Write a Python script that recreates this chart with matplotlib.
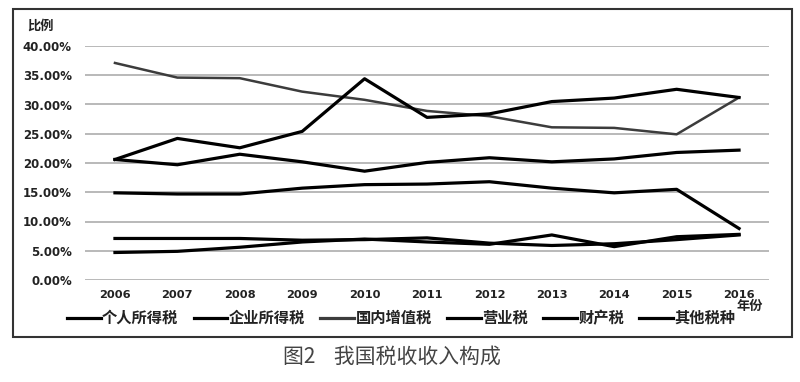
import matplotlib
matplotlib.use("Agg")
import matplotlib.pyplot as plt
from matplotlib.patches import Rectangle

# 年份与各税种占比（%）
years = ['2006', '2007', '2008', '2009', '2010', '2011',
         '2012', '2013', '2014', '2015', '2016']
geren = [7.1, 7.1, 7.1, 6.8, 6.9, 7.2, 6.3, 5.9, 6.2, 6.9, 7.7]
qiye = [20.6, 19.7, 21.5, 20.2, 18.6, 20.1, 20.9, 20.2, 20.7, 21.8, 22.2]
zengzhi = [37.1, 34.6, 34.5, 32.2, 30.8, 28.9, 28.0, 26.1, 26.0, 24.9, 31.2]
yingye = [14.9, 14.7, 14.7, 15.7, 16.3, 16.4, 16.8, 15.7, 14.9, 15.5, 8.8]
caichan = [4.7, 4.9, 5.6, 6.5, 7.0, 6.5, 6.1, 7.7, 5.7, 7.4, 7.8]
qita = [20.6, 24.2, 22.6, 25.4, 34.4, 27.8, 28.4, 30.5, 31.1, 32.6, 31.2]
names = ['个人所得税', '企业所得税', '国内增值税', '营业税', '财产税', '其他税种']

cjk = ['Noto Sans CJK SC', 'DejaVu Sans']

fig = plt.figure(figsize=(8, 3.82), dpi=100)
ax = fig.add_axes([85 / 800, 1 - 280 / 382, (769 - 85) / 800, (280 - 46) / 382])

x = list(range(len(years)))
series = [geren, qiye, zengzhi, yingye, caichan, qita]
handles = []
for name, vals in zip(names, series):
    if name == '国内增值税':
        h, = ax.plot(x, vals, color='#3c3c3c', lw=1.8, zorder=3, label=name)
    else:
        h, = ax.plot(x, vals, color='black', lw=2.3, zorder=4, label=name)
    handles.append(h)

ax.set_xlim(-0.48, 10.48)
ax.set_ylim(0, 40)
ax.set_yticks(range(0, 41, 5))
ax.set_yticklabels(['%.2f%%' % v for v in range(0, 41, 5)])
ax.set_xticks(x)
ax.set_xticklabels(years)
for v in range(0, 41, 5):
    ax.axhline(v, color='#a6a6a6', lw=1.1, zorder=1)
for s in ax.spines.values():
    s.set_visible(False)
ax.tick_params(axis='y', length=0, pad=9.5, labelsize=8.5)
ax.tick_params(axis='x', length=0, pad=7, labelsize=8.2)
for lab in ax.get_xticklabels() + ax.get_yticklabels():
    lab.set_fontweight('bold')
    lab.set_color('#222222')

fig.text(27 / 800, 1 - 26 / 382, '比例', family=cjk, fontsize=9.5,
         fontweight='bold', va='center', ha='left', color='#222222')
fig.text(750 / 800, 1 - 306 / 382, '年份', family=cjk, fontsize=9.5,
         fontweight='bold', va='center', ha='center', color='#222222')

leg = fig.legend(handles=handles, loc='center left', ncol=6,
                 bbox_to_anchor=(67 / 800, 1 - 318 / 382), frameon=False,
                 borderpad=0, borderaxespad=0, handlelength=2.2,
                 handletextpad=0.1, columnspacing=1.0,
                 prop={'family': cjk, 'size': 11, 'weight': 'bold'})
for t in leg.get_texts():
    t.set_color('#222222')
for h, name in zip(leg.legend_handles, names):
    h.set_linewidth(2.3)
    h.set_color('#3c3c3c' if name == '国内增值税' else 'black')

fig.patches.append(Rectangle((13 / 800, 1 - 337 / 382), (792 - 13) / 800,
                             (337 - 9) / 382, transform=fig.transFigure,
                             fill=False, edgecolor='#333333', lw=1.5))

fig.text(283 / 800, 1 - 357 / 382, '图2    我国税收收入构成', family=cjk,
         fontsize=15, va='center', ha='left', color='#444444')

fig.savefig('out.png', dpi=100)
